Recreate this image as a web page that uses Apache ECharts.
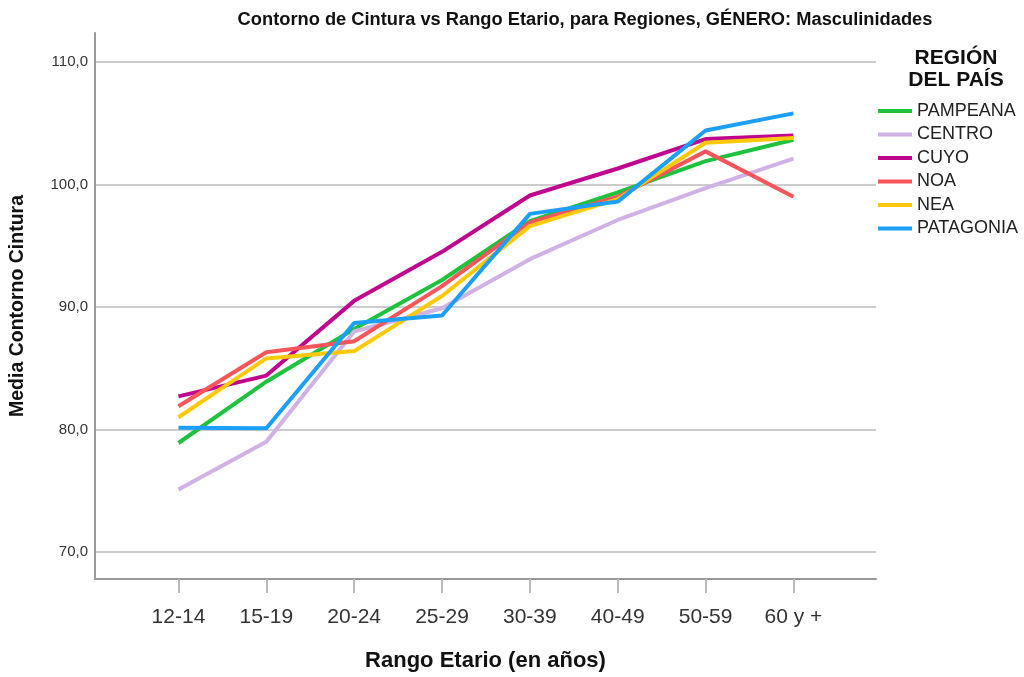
<!DOCTYPE html>
<html>
<head>
<meta charset="utf-8">
<script src="https://cdn.jsdelivr.net/npm/echarts@6/dist/echarts.min.js"></script>
<style>html,body{margin:0;padding:0;background:#fff;}#c{width:1024px;height:677px;}</style>
</head>
<body>
<div id="c"></div>
<script>
var categories = ['12-14','15-19','20-24','25-29','30-39','40-49','50-59','60 y +'];
var regions = ['PAMPEANA','CENTRO','CUYO','NOA','NEA','PATAGONIA'];
var pampeana  = [78.9, 83.9, 88.2, 92.2, 97.0, 99.35, 101.9, 103.65];
var centro    = [75.1, 79.0, 88.0, 89.9, 93.9, 97.1, 99.7, 102.1];
var cuyo      = [82.7, 84.4, 90.5, 94.5, 99.1, 101.3, 103.7, 104.0];
var noa       = [81.9, 86.3, 87.2, 91.7, 96.9, 99.0, 102.7, 99.0];
var nea       = [81.0, 85.8, 86.4, 90.9, 96.6, 98.8, 103.4, 103.8];
var patagonia = [80.15, 80.1, 88.7, 89.3, 97.6, 98.6, 104.4, 105.8];
var yTicks = [70, 80, 90, 100, 110];

var seriesValues = [pampeana, centro, cuyo, noa, nea, patagonia];
var colors = ['#1ec23c', '#d0b2e4', '#c0068e', '#f7555a', '#ffc90a', '#1aa0f8'];
var catIdx = categories.map(function(c, i){ return i; });

var chart = echarts.init(document.getElementById('c'), null, {renderer: 'canvas'});
var series = regions.map(function(name, k){
  return {
    name: name,
    type: 'line',
    symbol: 'none',
    data: seriesValues[k].map(function(v, i){ return [i, v]; }),
    lineStyle: {width: 4, color: colors[k]},
    itemStyle: {color: colors[k]},
    emphasis: {disabled: true}
  };
});

chart.setOption({
  animation: false,
  backgroundColor: '#fff',
  textStyle: {fontFamily: 'Liberation Sans, Arial, sans-serif'},
  title: [
    {
      text: 'Contorno de Cintura vs Rango Etario, para Regiones, GÉNERO: Masculinidades',
      left: 580, top: 6, textAlign: 'center',
      textStyle: {fontFamily: 'Liberation Sans, Arial, sans-serif', fontWeight: 'bold', fontSize: 18.3, color: '#111'}
    },
    {
      text: 'REGIÓN\nDEL PAÍS',
      left: 951, top: 42, textAlign: 'center',
      textStyle: {fontFamily: 'Liberation Sans, Arial, sans-serif', fontWeight: 'bold', fontSize: 21, lineHeight: 22, color: '#111'}
    }
  ],
  legend: {
    orient: 'vertical',
    left: 878, top: 102,
    padding: 0,
    icon: 'rect',
    itemWidth: 34, itemHeight: 4,
    itemGap: 5.5,
    data: regions,
    textStyle: {fontSize: 18, lineHeight: 18, color: '#222', padding: [0,0,0,0]}
  },
  grid: {left: 95, right: 148, top: 33, bottom: 97, containLabel: false},
  xAxis: {
    type: 'value',
    min: -0.95, max: 7.94,
    name: 'Rango Etario (en años)',
    nameLocation: 'middle', nameGap: 71,
    nameTextStyle: {fontWeight: 'bold', fontSize: 22, color: '#111'},
    axisLine: {show: true, onZero: false, lineStyle: {color: '#999', width: 2}},
    axisTick: {show: true, customValues: catIdx, length: 14, lineStyle: {color: '#bbb', width: 2}},
    axisLabel: {customValues: catIdx, margin: 28, fontSize: 21, color: '#333',
      formatter: function(v){ return categories[Math.round(v)]; }},
    splitLine: {show: false}
  },
  yAxis: {
    type: 'value',
    min: 67.8, max: 112.36,
    name: 'Media Contorno Cintura',
    nameLocation: 'middle', nameGap: 67, nameRotate: 90,
    nameTextStyle: {fontWeight: 'bold', fontSize: 19.5, color: '#111'},
    axisLine: {show: true, onZero: false, lineStyle: {color: '#999', width: 2}},
    axisTick: {show: false, customValues: yTicks},
    axisLabel: {customValues: yTicks, margin: 7, fontSize: 15, color: '#333',
      formatter: function(v){ return v.toFixed(1).replace('.', ','); }},
    splitLine: {show: true, lineStyle: {color: '#cccccc', width: 2}}
  },
  series: series
});
</script>
</body>
</html>
